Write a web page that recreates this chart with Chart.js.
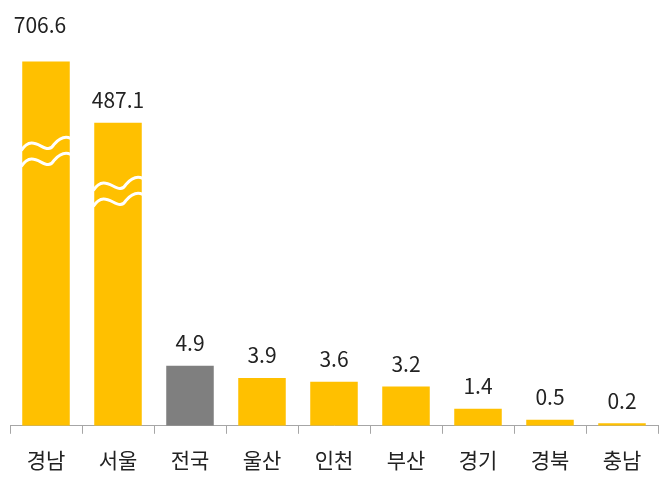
<!DOCTYPE html>
<html lang="ko">
<head>
<meta charset="UTF-8">
<title>지역별 값</title>
<script src="https://cdn.jsdelivr.net/npm/chart.js"></script>
<style>
    body { margin: 0; background: #fff; }
    #wrap { width: 662px; height: 495px; }
</style>
</head>
<body>
<div id="wrap"><canvas id="chart"></canvas></div>
<script>
const regions = ['경남', '서울', '전국', '울산', '인천', '부산', '경기', '경북', '충남'];
const values = [706.6, 487.1, 4.9, 3.9, 3.6, 3.2, 1.4, 0.5, 0.2];
const colors = ['#FFC000', '#FFC000', '#7F7F7F', '#FFC000', '#FFC000', '#FFC000', '#FFC000', '#FFC000', '#FFC000'];
const breakAt = [0.75, 0.77];  // where the wavy break sits, fraction of bar height from base

// broken axis: small values linear, large values compressed
function toDisplay(v) {
    return v <= 10 ? v : 13.6 + 0.0228 * v;
}

const labelFont = { family: 'Noto Sans CJK KR, Noto Sans, sans-serif', size: 21 };

const breakPlugin = {
    id: 'breaks',
    afterDatasetsDraw(chart) {
        const ctx = chart.ctx;
        const meta = chart.getDatasetMeta(0);
        breakAt.forEach((f, i) => {
            const bar = meta.data[i];
            const half = bar.width / 2;
            const y = bar.base - (bar.base - bar.y) * f;
            ctx.save();
            ctx.strokeStyle = '#fff';
            ctx.lineWidth = 3;
            [-8, 8].forEach(off => {
                ctx.beginPath();
                ctx.moveTo(bar.x - half - 1, y + off + 6);
                ctx.bezierCurveTo(bar.x - half / 2, y + off - 14, bar.x, y + off + 14, bar.x + half / 3, y + off);
                ctx.quadraticCurveTo(bar.x + half * 0.7, y + off - 10, bar.x + half + 1, y + off - 6);
                ctx.stroke();
            });
            ctx.restore();
        });
    }
};

const valuePlugin = {
    id: 'values',
    afterDatasetsDraw(chart) {
        const ctx = chart.ctx;
        const meta = chart.getDatasetMeta(0);
        ctx.save();
        ctx.fillStyle = '#222';
        ctx.font = `${labelFont.size}px ${labelFont.family}`;
        ctx.textAlign = 'center';
        ctx.textBaseline = 'bottom';
        meta.data.forEach((bar, i) => {
            let x = bar.x;
            if (i === 0) x = bar.x - 6;
            ctx.fillText(values[i].toFixed(1), x, bar.y - (i === 0 ? 26 : 12));
        });
        ctx.restore();
    }
};

new Chart(document.getElementById('chart'), {
    type: 'bar',
    data: {
        labels: regions,
        datasets: [{
            data: values.map(toDisplay),
            backgroundColor: colors,
            barPercentage: 0.66,
            categoryPercentage: 1
        }]
    },
    options: {
        animation: false,
        responsive: true,
        maintainAspectRatio: false,
        layout: { padding: { top: 10, left: 10, right: 4, bottom: 8 } },
        plugins: { legend: { display: false }, tooltip: { enabled: false } },
        scales: {
            x: {
                grid: { display: true, drawOnChartArea: false, offset: true, color: '#A6A6A6', tickLength: 8 },
                border: { color: '#A6A6A6' },
                ticks: { color: '#222', font: labelFont, padding: 14 }
            },
            y: {
                display: false,
                min: 0,
                max: 33.9
            }
        }
    },
    plugins: [breakPlugin, valuePlugin]
});
</script>
</body>
</html>
